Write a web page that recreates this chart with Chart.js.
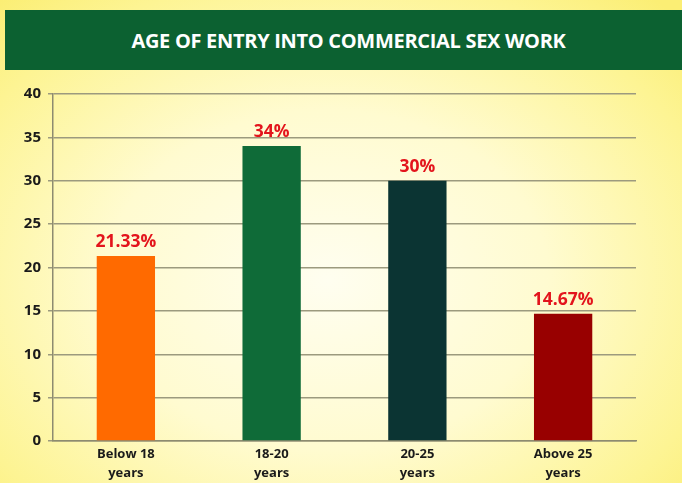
<!DOCTYPE html>
<html lang="en">
<head>
<meta charset="UTF-8">
<title>Age of Entry into Commercial Sex Work</title>
<script src="https://cdn.jsdelivr.net/npm/chart.js"></script>
<style>
  html, body { margin: 0; padding: 0; }
  body {
    width: 682px; height: 483px; overflow: hidden; position: relative;
    background: radial-gradient(ellipse 72% 78% at 48% 58%, #fffef0 0%, #fffbd0 45%, #fdf493 82%, #fbee74 100%);
    font-family: "Open Sans", sans-serif;
  }
  #banner {
    position: absolute; left: 5px; top: 10px; width: 677px; height: 60px;
    background: #0c6131; color: #fff;
    font: 700 20px "Open Sans", sans-serif;
    display: flex; align-items: center; justify-content: center;
    letter-spacing: -0.3px;
    padding-left: 10px; box-sizing: border-box;
  }
  #wrap { position: absolute; left: 0; top: 0; width: 682px; height: 483px; }
</style>
</head>
<body>
<div id="banner">AGE OF ENTRY INTO COMMERCIAL SEX WORK</div>
<div id="wrap"><canvas id="chart"></canvas></div>
<script>
  const categories = [['Below 18', 'years'], ['18-20', 'years'], ['20-25', 'years'], ['Above 25', 'years']];
  const shares = [21.33, 34, 30, 14.67];
  const barColors = ['#ff6a00', '#0f6b38', '#0b3433', '#980000'];
  const yTicks = [0, 5, 10, 15, 20, 25, 30, 35, 40];

  // value labels over each bar
  const valueLabels = {
    id: 'valueLabels',
    afterDatasetsDraw(chart) {
      const ctx = chart.ctx;
      const meta = chart.getDatasetMeta(0);
      ctx.save();
      ctx.fillStyle = '#e3141c';
      ctx.font = '700 17.5px "Open Sans", sans-serif';
      ctx.textAlign = 'center';
      ctx.textBaseline = 'alphabetic';
      meta.data.forEach((bar, i) => {
        ctx.fillText(shares[i] + '%', bar.x, bar.y - 9);
      });
      ctx.restore();
    }
  };

  new Chart(document.getElementById('chart'), {
    type: 'bar',
    data: {
      labels: categories,
      datasets: [{
        data: shares,
        backgroundColor: barColors,
        barPercentage: 0.4,
        categoryPercentage: 1
      }]
    },
    options: {
      responsive: true,
      maintainAspectRatio: false,
      animation: false,
      layout: { padding: { top: 94, right: 46, left: 0, bottom: 0 } },
      plugins: { legend: { display: false }, tooltip: { enabled: false } },
      scales: {
        x: {
          grid: { display: false },
          border: { color: '#8d8b70', width: 1.5 },
          ticks: {
            color: '#1a1a1a',
            font: { family: 'Open Sans', size: 13, weight: '700', lineHeight: 1.45 },
            padding: -4
          },
          afterFit(scale) { scale.height = 42; }
        },
        y: {
          min: 0, max: 40,
          afterBuildTicks(scale) { scale.ticks = yTicks.map(v => ({ value: v })); },
          grid: { color: '#9c9a7e', lineWidth: 1.5, tickLength: 5 },
          border: { color: '#8d8b70', width: 1.5 },
          ticks: {
            color: '#1a1a1a',
            font: { family: 'Open Sans', size: 15, weight: '700' },
            padding: 7
          },
          afterFit(scale) { scale.width = 53; }
        }
      }
    },
    plugins: [valueLabels]
  });
</script>
</body>
</html>
